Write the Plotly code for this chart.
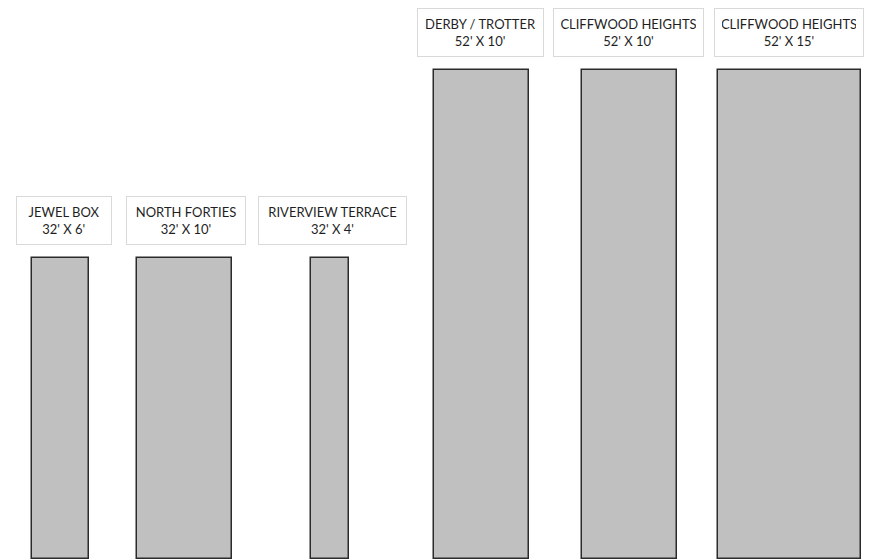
import plotly.graph_objects as go

# plot sizes in feet
names = ["JEWEL BOX", "NORTH FORTIES", "RIVERVIEW TERRACE",
         "DERBY / TROTTER", "CLIFFWOOD HEIGHTS", "CLIFFWOOD HEIGHTS"]
lengths = [32, 32, 32, 52, 52, 52]
widths = [6, 10, 4, 10, 10, 15]

# layout: where each plot sits along the row (feet), label box widths and nudges (px)
centers = [6.26, 19.32, 34.63, 50.58, 66.16, 83.0]
box_w = [80, 104, 133, 111, 135, 134]
box_dx = [4, 1, 3, -1, -1, -1]

PX_X = 9.5   # px per foot, horizontal
PX_Y = 9.40  # px per foot, vertical
PAGE = 8     # page margin of the html body

fig = go.Figure()

fig.add_trace(go.Bar(
    x=centers,
    y=lengths,
    width=widths,
    marker=dict(color="#c0c0c0", line=dict(color="#2b2b2b", width=1.5)),
    hoverinfo="skip",
    showlegend=False,
))

for name, cx, ln, w, bw, dx in zip(names, centers, lengths, widths, box_w, box_dx):
    fig.add_annotation(
        x=cx, y=ln, xref="x", yref="y",
        text=f"{name}<br>{ln}' X {w}'",
        showarrow=False,
        yanchor="bottom",
        yshift=13,
        xshift=dx,
        width=bw,
        align="center",
        font=dict(family="Lato, Open Sans, sans-serif", size=13, color="#1f1f1f"),
        bgcolor="white",
        bordercolor="#d9d9d9",
        borderwidth=1,
        borderpad=7,
    )

fig.update_layout(
    width=873,
    height=559,
    margin=dict(l=0, r=873 - 861 + PAGE, t=0, b=PAGE),
    plot_bgcolor="white",
    paper_bgcolor="white",
    xaxis=dict(range=[(PAGE - 1) / PX_X, 860 / PX_X], visible=False, fixedrange=True),
    yaxis=dict(range=[-0.5 / PX_Y, (558.5 - PAGE) / PX_Y], visible=False, fixedrange=True),
    bargap=0,
)

fig.write_html("out.html")
